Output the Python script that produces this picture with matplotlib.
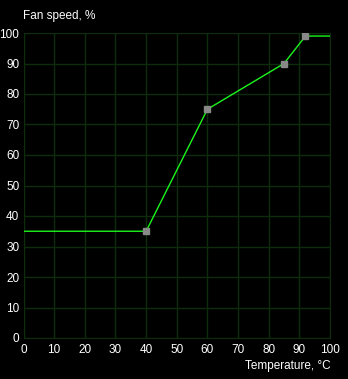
import matplotlib
matplotlib.use('Agg')
import matplotlib.pyplot as plt

plt.rcParams['font.family'] = ['Liberation Sans', 'DejaVu Sans']

# fan curve points
temps = [0, 40, 60, 85, 92, 100]
speeds = [35, 35, 75, 90, 99, 99]
ctrl_temps = [40, 60, 85, 92]
ctrl_speeds = [35, 75, 90, 99]
ticks = list(range(0, 101, 10))

GRID = '#0c2c0c'

fig = plt.figure(figsize=(3.48, 3.79), dpi=100, facecolor='black')
ax = fig.add_axes([23.5 / 348, 41 / 379, 306.5 / 348, 305 / 379])
ax.set_facecolor('black')

ax.plot(temps, speeds, color='#1cf51c', linewidth=1.0, zorder=3)
ax.plot(ctrl_temps, ctrl_speeds, linestyle='none', marker='s', markersize=5,
        markerfacecolor='#888888', markeredgecolor='#888888', zorder=4)

ax.set_xlim(0, 100)
ax.set_ylim(0, 100)
ax.set_xticks(ticks)
ax.set_yticks(ticks)
ax.grid(True, color=GRID, linewidth=1.0)
for s in ax.spines.values():
    s.set_color(GRID)
ax.tick_params(colors='white', labelsize=8.5, length=0)
ax.tick_params(axis='y', pad=3)
ax.tick_params(axis='x', pad=4)

fig.text(23 / 348, 1 - 16 / 379, 'Fan speed, %', color='white', fontsize=8.5,
         ha='left', va='center')
fig.text(331 / 348, 1 - 366 / 379, 'Temperature, °C', color='white', fontsize=8.5,
         ha='right', va='center')

fig.savefig('out.png', dpi=100, facecolor='black')
